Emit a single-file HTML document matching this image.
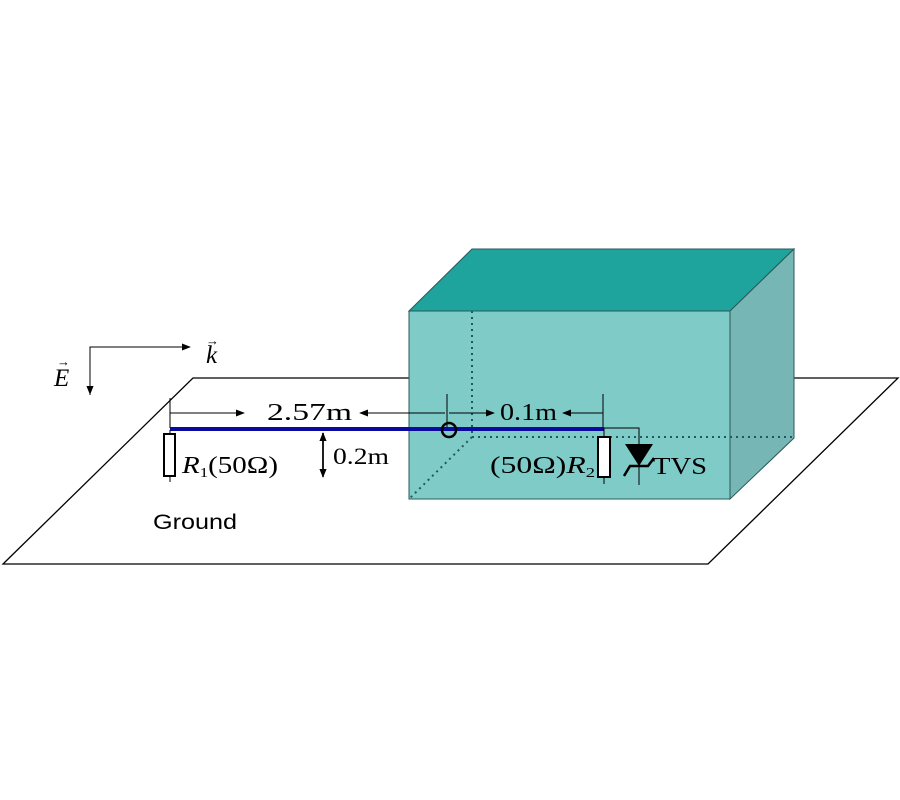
<!DOCTYPE html>
<html><head><style>body{margin:0;background:#fff}svg{display:block}</style></head><body>
<svg width="900" height="800" xmlns="http://www.w3.org/2000/svg" font-family="Liberation Serif, serif">
<defs><marker id="a" viewBox="0 0 10 10" refX="9" refY="5" markerWidth="9" markerHeight="9" markerUnits="userSpaceOnUse" orient="auto"><path d="M0,1L10,5L0,9z" fill="#000"/></marker></defs>
<polygon points="193,378 898,378 708,564 3,564" fill="#fff" stroke="#000" stroke-width="1.3"/>
<polygon points="409,311 472,249 794,249 730,311" fill="#1fa39d" stroke="#2a5a58"/>
<polygon points="730,311 794,249 794,438 730,499" fill="#76b6b4" stroke="#2a5a58"/>
<rect x="409" y="311" width="321" height="188" fill="#7ecbc8" stroke="#2a5a58"/>
<g stroke="#1e5a5a" stroke-width="2" stroke-dasharray="2,4" fill="none"><path d="M472,311V437H794M472,437L409,499"/></g>
<path d="M90,395V347H190" stroke="#000" fill="none" marker-end="url(#a)"/>
<path d="M90,347V394" stroke="#000" marker-end="url(#a)"/>
<text x="54" y="386" font-size="25" font-style="italic">E</text><text x="57" y="366" font-size="13">→</text>
<text x="206" y="363" font-size="25" font-style="italic">k</text><text x="206" y="345" font-size="13">→</text>
<path d="M170,398V428M447,394V428M603,394V428" stroke="#000"/>
<path d="M170,413H244" stroke="#000" marker-end="url(#a)"/>
<path d="M445,413H360" stroke="#000" marker-end="url(#a)"/>
<path d="M449,413H494" stroke="#000" marker-end="url(#a)"/>
<path d="M603,413H563" stroke="#000" marker-end="url(#a)"/>
<text x="267" y="420" font-size="24" textLength="85" lengthAdjust="spacingAndGlyphs">2.57m</text>
<text x="500" y="420" font-size="24" textLength="57" lengthAdjust="spacingAndGlyphs">0.1m</text>
<line x1="170" y1="429" x2="604" y2="429" stroke="#0a0aa0" stroke-width="4"/>
<circle cx="449" cy="430" r="7" fill="none" stroke="#000" stroke-width="2.5"/>
<path d="M170,430V482" stroke="#000"/><rect x="164" y="434" width="11" height="42" fill="#fff" stroke="#000" stroke-width="2"/>
<text x="182" y="473" font-size="24" textLength="96" lengthAdjust="spacingAndGlyphs"><tspan font-style="italic">R</tspan><tspan font-size="14" dy="4">1</tspan><tspan dy="-4">(50Ω)</tspan></text>
<path d="M323,433V477" stroke="#000" stroke-width="1.5" marker-end="url(#a)"/><path d="M323,470V433" stroke="#000" stroke-width="1.5" marker-end="url(#a)"/>
<text x="333" y="464" font-size="23" textLength="56" lengthAdjust="spacingAndGlyphs">0.2m</text>
<path d="M604,428V484M604,428H639V485" stroke="#000" fill="none"/>
<rect x="598" y="437" width="12" height="40" fill="#fff" stroke="#000" stroke-width="2"/>
<polygon points="625,444 653,444 639,466" fill="#000"/>
<path d="M624,476L630,466H648L654,458" stroke="#000" stroke-width="2.5" fill="none"/>
<text x="653" y="474" font-size="24" textLength="54" lengthAdjust="spacingAndGlyphs">TVS</text>
<text x="490" y="473" font-size="24" textLength="105" lengthAdjust="spacingAndGlyphs">(50Ω)<tspan font-style="italic">R</tspan><tspan font-size="14" dy="4">2</tspan></text>
<text x="153" y="529" font-size="21" font-family="Liberation Sans, sans-serif" textLength="84" lengthAdjust="spacingAndGlyphs">Ground</text>
</svg>
</body></html>
